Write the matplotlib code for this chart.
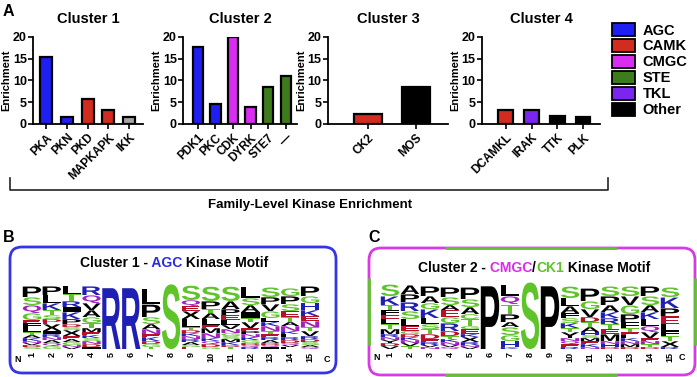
import matplotlib
matplotlib.use("Agg")
import matplotlib.pyplot as plt
import matplotlib.transforms as mtransforms
from matplotlib.textpath import TextPath
from matplotlib.patches import PathPatch, Patch, FancyBboxPatch
from matplotlib.font_manager import FontProperties

plt.rcParams['font.family'] = ['Liberation Sans', 'DejaVu Sans']
plt.rcParams['font.weight'] = 'bold'

W, H = 697, 377

# ---- bar data (enrichment per kinase group) ----
c1_names = ["PKA", "PKN", "PKD", "MAPKAPK", "IKK"]
c1_values = [15.4, 1.5, 5.7, 3.3, 1.5]
c1_family = ["AGC", "AGC", "CAMK", "CAMK", "grey"]

c2_names = ["PDK1", "PKC", "CDK", "DYRK", "STE7", "\u2014"]
c2_values = [17.7, 4.5, 19.9, 4.0, 8.5, 11.1]
c2_family = ["AGC", "AGC", "CMGC", "CMGC", "STE", "STE"]

c3_names = ["CK2", "MOS"]
c3_values = [2.4, 8.6]
c3_family = ["CAMK", "Other"]

c4_names = ["DCAMKL", "IRAK", "TTK", "PLK"]
c4_values = [3.3, 3.3, 1.8, 1.5]
c4_family = ["CAMK", "TKL", "Other", "Other"]

legend_families = ["AGC", "CAMK", "CMGC", "STE", "TKL", "Other"]
fam_colors = {"AGC": "#1F1FF2", "CAMK": "#D22B1F", "CMGC": "#D92EF0",
              "STE": "#3E7B1D", "TKL": "#7B25F0", "Other": "#000000",
              "grey": "#A5A5A5"}

# ---- motif logos, letters top to bottom with heights ----
logo1 = [
    [("P", 11), ("S", 8), ("Q", 8), ("G", 7), ("E", 3), ("F", 5), ("L", 4), ("T", 3), ("A", 3), ("K", 3), ("N", 2), ("V", 2), ("D", 2), ("S", 2)],
    [("P", 9), ("L", 8), ("K", 7), ("T", 5), ("S", 4), ("D", 3), ("E", 2), ("X", 7), ("I", 3), ("R", 3), ("N", 3), ("A", 3), ("Q", 3), ("G", 3)],
    [("L", 8), ("T", 7), ("R", 6), ("I", 5), ("K", 7), ("P", 5), ("D", 3), ("S", 3), ("X", 6), ("E", 3), ("A", 3), ("G", 3), ("N", 2), ("V", 2)],
    [("R", 9), ("Q", 8), ("V", 7), ("A", 7), ("G", 6), ("T", 5), ("M", 4), ("E", 3), ("K", 3), ("S", 3), ("N", 3), ("D", 3), ("I", 2)],
    [("R", 64)],
    [("R", 64)],
    [("L", 16), ("P", 13), ("S", 7), ("A", 5), ("N", 5), ("E", 3), ("K", 4), ("D", 3), ("G", 3), ("T", 2)],
    [("S", 68)],
    [("S", 15), ("Q", 6), ("E", 5), ("X", 8), ("L", 8), ("T", 3), ("D", 3), ("K", 3), ("N", 3), ("R", 3), ("A", 3), ("G", 2), ("E", 2)],
    [("S", 15), ("P", 8), ("T", 4), ("A", 6), ("L", 6), ("E", 3), ("M", 5), ("N", 5), ("K", 3), ("Q", 3), ("D", 3), ("G", 2)],
    [("S", 15), ("A", 8), ("P", 6), ("E", 5), ("L", 5), ("V", 4), ("N", 4), ("G", 3), ("S", 3), ("M", 3), ("K", 3), ("D", 2), ("T", 2)],
    [("L", 12), ("S", 7), ("A", 7), ("I", 6), ("T", 4), ("V", 6), ("E", 3), ("P", 3), ("N", 3), ("K", 3), ("G", 3), ("D", 2), ("Q", 2), ("R", 2)],
    [("S", 10), ("P", 7), ("V", 7), ("G", 7), ("L", 4), ("K", 4), ("N", 5), ("T", 3), ("E", 3), ("R", 3), ("A", 3), ("D", 2), ("Q", 2), ("I", 2)],
    [("G", 8), ("P", 8), ("S", 7), ("E", 6), ("T", 5), ("A", 4), ("N", 5), ("K", 3), ("L", 3), ("R", 3), ("D", 3), ("Q", 2), ("V", 2), ("F", 2)],
    [("P", 10), ("G", 7), ("H", 7), ("K", 6), ("E", 5), ("N", 6), ("T", 4), ("V", 5), ("R", 3), ("D", 3), ("S", 3), ("A", 2), ("Q", 2)],
]

logo2 = [
    [("S", 12), ("K", 9), ("T", 5), ("F", 5), ("E", 4), ("L", 5), ("T", 5), ("M", 5), ("R", 3), ("N", 3), ("Y", 3), ("D", 3), ("V", 3)],
    [("A", 9), ("P", 8), ("R", 9), ("S", 8), ("L", 7), ("E", 5), ("G", 3), ("D", 3), ("K", 3), ("N", 3), ("V", 3), ("T", 3)],
    [("P", 10), ("A", 7), ("G", 6), ("K", 9), ("L", 6), ("S", 5), ("T", 5), ("D", 5), ("E", 3), ("R", 3), ("V", 2), ("N", 2)],
    [("P", 10), ("S", 8), ("A", 5), ("E", 7), ("G", 6), ("R", 8), ("D", 5), ("T", 3), ("K", 3), ("N", 3), ("V", 2), ("Q", 2)],
    [("P", 12), ("S", 8), ("A", 7), ("C", 5), ("T", 7), ("G", 3), ("E", 5), ("K", 3), ("X", 5), ("R", 3), ("N", 2), ("V", 2)],
    [("P", 66)],
    [("L", 12), ("Q", 8), ("T", 10), ("P", 8), ("A", 5), ("S", 8), ("G", 6), ("H", 6), ("K", 2)],
    [("S", 70)],
    [("P", 66)],
    [("S", 12), ("L", 8), ("A", 7), ("F", 5), ("S", 5), ("K", 5), ("T", 4), ("Y", 6), ("N", 3), ("Q", 3), ("E", 3), ("R", 2)],
    [("P", 13), ("G", 8), ("V", 8), ("D", 5), ("T", 5), ("A", 5), ("H", 3), ("S", 3), ("M", 3), ("E", 3), ("K", 3), ("N", 2)],
    [("S", 10), ("P", 9), ("A", 7), ("K", 6), ("R", 6), ("T", 5), ("E", 5), ("M", 7), ("N", 3), ("H", 3), ("D", 2)],
    [("S", 10), ("V", 9), ("G", 9), ("P", 8), ("F", 6), ("T", 4), ("E", 3), ("L", 3), ("K", 3), ("N", 3), ("M", 3), ("D", 2)],
    [("P", 10), ("S", 9), ("A", 7), ("K", 7), ("L", 7), ("Q", 6), ("V", 6), ("E", 3), ("N", 3), ("T", 3), ("D", 2)],
    [("S", 10), ("K", 11), ("P", 8), ("E", 8), ("L", 7), ("F", 5), ("T", 5), ("X", 6), ("R", 2)],
]

aa_colors = {}
for aa in "STGC":
    aa_colors[aa] = "#5EC42A"
for aa in "KRH":
    aa_colors[aa] = "#1F1FB4"
for aa in "DE":
    aa_colors[aa] = "#B8102A"
for aa in "NQ":
    aa_colors[aa] = "#A020C0"

LOGO_FP = FontProperties(family='Liberation Sans', weight='bold')


def px_rect(x0, y0, x1, y1):
    return [x0 / W, 1 - y1 / H, (x1 - x0) / W, (y1 - y0) / H]


fig = plt.figure(figsize=(W / 100, H / 100), dpi=100)

# background layer in pixel coordinates for frames, brackets and labels
bg = fig.add_axes([0, 0, 1, 1])
bg.set_xlim(0, W)
bg.set_ylim(H, 0)
bg.axis('off')


def bar_panel(rect, names, values, families, title, xlim):
    ax = fig.add_axes(px_rect(*rect))
    xs = list(range(len(names)))
    ax.bar(xs, values, width=0.58, color=[fam_colors[f] for f in families],
           edgecolor='black', linewidth=1.6, zorder=3)
    ax.set_xlim(*xlim)
    ax.set_ylim(0, 20)
    ax.set_yticks([0, 5, 10, 15, 20])
    ax.set_xticks(xs)
    ax.set_xticklabels(names, rotation=45, ha='right', rotation_mode='anchor',
                       fontsize=8.5, fontweight='bold')
    ax.tick_params(axis='y', labelsize=9, length=3.5, width=1.2, pad=1)
    ax.tick_params(axis='x', length=3.5, width=1.2, pad=2)
    for lab in ax.get_yticklabels():
        lab.set_fontweight('bold')
    for s in ['top', 'right']:
        ax.spines[s].set_visible(False)
    for s in ['left', 'bottom']:
        ax.spines[s].set_linewidth(1.3)
    ax.set_ylabel("Enrichment", fontsize=8, fontweight='bold', labelpad=1)
    ax.set_title(title, fontsize=10.5, fontweight='bold', pad=10)
    return ax


bar_panel((33, 37, 143, 124), c1_names, c1_values, c1_family, "Cluster 1", (-0.63, 4.67))
bar_panel((183, 37, 297, 124), c2_names, c2_values, c2_family, "Cluster 2", (-0.85, 5.65))
bar_panel((328, 37, 448, 124), c3_names, c3_values, c3_family, "Cluster 3", (-0.83, 1.67))
bar_panel((482, 37, 600, 124), c4_names, c4_values, c4_family, "Cluster 4", (-0.93, 3.66))

handles = [Patch(facecolor=fam_colors[f], edgecolor='black', linewidth=1.3, label=f)
           for f in legend_families]
fig.legend(handles=handles, loc='upper left', bbox_to_anchor=(612 / W, 1 - 23 / H),
           frameon=False, fontsize=10.5, handlelength=1.6, handleheight=1.0,
           labelspacing=0.1, handletextpad=0.5, borderaxespad=0, borderpad=0)

# bracket for panel A
bg.plot([10, 10, 608, 608], [178, 190, 190, 178], color='#222222', lw=1.2)
bg.text(310, 205, "Family-Level Kinase Enrichment", ha='center', va='center',
        fontsize=9.5, fontweight='bold')

for lab, x, y in [("A", 3, 11), ("B", 3, 238), ("C", 368, 238)]:
    bg.text(x, y, lab, fontsize=11.5, fontweight='bold', va='center', ha='left')

# motif frames
bg.add_patch(FancyBboxPatch((10, 247), 326, 126, boxstyle="round,pad=0,rounding_size=12",
                            fc='none', ec='#3535E6', lw=2))
bg.add_patch(FancyBboxPatch((369, 248), 326, 127, boxstyle="round,pad=0,rounding_size=12",
                            fc='none', ec='#D83AE6', lw=2))
green = "#5EC42A"
bg.plot([445, 617], [248, 248], color=green, lw=2, solid_capstyle='butt')
bg.plot([445, 617], [375, 375], color=green, lw=2, solid_capstyle='butt')
bg.plot([369, 369], [278, 345], color=green, lw=2, solid_capstyle='butt')
bg.plot([695, 695], [278, 345], color=green, lw=2, solid_capstyle='butt')


def rainbow(x, y, parts, size):
    t = bg.text(x, y, parts[0][0], color=parts[0][1], fontsize=size,
                fontweight='bold', va='center', ha='left')
    for s, c in parts[1:]:
        t = bg.annotate(s, xy=(1, 0), xycoords=t, va='bottom', ha='left',
                        color=c, fontsize=size, fontweight='bold')


rainbow(80, 263, [("Cluster 1 -", "black"), (" AGC", "#2A2AE6"), (" Kinase Motif", "black")], 10)
rainbow(418, 268, [("Cluster 2 -", "black"), (" CMGC", "#D62EE8"), ("/", "black"),
                   ("CK1", green), (" Kinase Motif", "black")], 10)


def draw_letter(ax, ch, x, y0, w, h, color):
    tp = TextPath((0, 0), ch, size=1, prop=LOGO_FP)
    ext = tp.get_extents()
    tr = (mtransforms.Affine2D().translate(-ext.x0, -ext.y0)
          .scale(w / ext.width, h / ext.height).translate(x - w / 2, y0))
    ax.add_patch(PathPatch(tr.transform_path(tp), fc=color, ec='none', lw=0))


def logo_panel(rect, stacks):
    ax = fig.add_axes(px_rect(*rect))
    ax.patch.set_alpha(0)
    for i, col in enumerate(stacks):
        y = 0
        for ch, h in reversed(col):
            draw_letter(ax, ch, i + 1, y, 0.92, h * 0.95, aa_colors.get(ch, "black"))
            y += h
    ax.set_xlim(0.5, len(stacks) + 0.5)
    ax.set_ylim(0, 68)
    ax.set_xticks(range(1, len(stacks) + 1))
    ax.set_xticklabels([str(i) for i in range(1, len(stacks) + 1)], rotation=90,
                       fontsize=6.5, fontweight='bold')
    ax.tick_params(length=0, pad=2)
    ax.set_yticks([])
    for s in ax.spines.values():
        s.set_visible(False)
    return ax


logo_panel((22, 281, 320, 349), logo1)
logo_panel((380, 281, 680, 349), logo2)
bg.text(18, 360, "N", fontsize=6.5, fontweight='bold', ha='center', va='center')
bg.text(327, 360, "C", fontsize=6.5, fontweight='bold', ha='center', va='center')
bg.text(377, 358, "N", fontsize=6.5, fontweight='bold', ha='center', va='center')
bg.text(682, 358, "C", fontsize=6.5, fontweight='bold', ha='center', va='center')

fig.savefig("out.png", dpi=100)
